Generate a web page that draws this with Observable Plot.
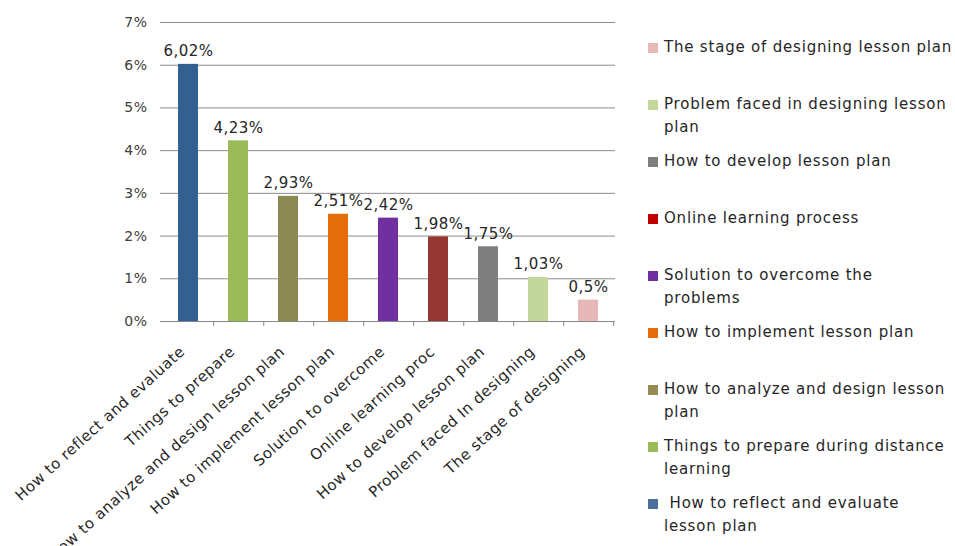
<!DOCTYPE html>
<html><head><meta charset="utf-8">
<script src="https://cdn.jsdelivr.net/npm/d3@7"></script>
<script src="https://cdn.jsdelivr.net/npm/@observablehq/plot@0.6"></script>
<style>
body{margin:0;background:#fff;font-family:"DejaVu Sans",sans-serif;}
#wrap{position:relative;width:955px;height:546px;overflow:hidden;background:#fff;}
#chart{position:absolute;left:0;top:0;}
#legend{position:absolute;left:648px;top:36px;color:#262626;font-size:15px;letter-spacing:0.8px;}
.item{height:57px;display:flex;align-items:flex-start;}
.sw{width:10px;height:10px;margin-top:7px;margin-right:6px;flex:none;}
.lb{line-height:23px;white-space:pre;}
</style>
</head><body>
<div id="wrap"><div id="chart"></div><div id="legend"></div></div>
<script>
const categories = ["How to reflect and evaluate","Things to prepare","How to analyze and design lesson plan","How to implement lesson plan","Solution to overcome","Online learning proc","How to develop lesson plan","Problem faced In designing","The stage of designing"];
const values = [6.02,4.23,2.93,2.51,2.42,1.98,1.75,1.03,0.5];
const colors = ["#335f91","#9bbb59","#8c8a54","#e46c0a","#7030a0","#953735","#7f7f7f","#c3d69b","#e6b9b8"];
const yTicks = [0,1,2,3,4,5,6,7];
const legendLabels = ["The stage of designing lesson plan","Problem faced in designing lesson\nplan","How to develop lesson plan","Online learning process","Solution to overcome the\nproblems","How to implement lesson plan","How to analyze and design lesson\nplan","Things to prepare during distance\nlearning"," How to reflect and evaluate\nlesson plan"];
const legendColors = ["#e6b9b8","#c3d69b","#7f7f7f","#c00000","#7030a0","#e46c0a","#948a54","#9bbb59","#4a6e9e"];

const data = categories.map((c,i)=>({c, v: values[i], color: colors[i], label: String(values[i]).replace(".", ",") + "%"}));
const W = 640, H = 546, mL = 160, mR = 25, mT = 22, mB = 225;
const step = (W - mL - mR) / categories.length;

const chart = Plot.plot({
  width: W, height: H, marginLeft: mL, marginRight: mR, marginTop: mT, marginBottom: mB,
  style: {fontFamily: "DejaVu Sans", fontSize: "14px", color: "#404040", background: "transparent", overflow: "visible", letterSpacing: "0.5px"},
  x: {domain: categories, paddingInner: 0.61, paddingOuter: 0.305, label: null},
  y: {domain: [0, 7], label: null},
  color: {type: "identity"},
  marks: [
    Plot.gridY(yTicks, {stroke: "#8c8c8c", strokeOpacity: 1}),
    Plot.ruleY([0], {stroke: "#868686"}),
    Plot.barY(data, {x: "c", y: "v", fill: "color"}),
    Plot.text(data, {x: "c", y: "v", text: "label", dy: -13, fontSize: 15, fill: "#262626"}),
    Plot.axisY(yTicks, {tickSize: 0, tickPadding: 13, tickFormat: d => d + "%", fontSize: 14, fill: "#404040", label: null}),
    Plot.axisX({tickSize: 5, dx: step / 2, tickFormat: () => "", stroke: "#868686", label: null}),
    Plot.axisX({tickSize: 0, tickRotate: -42, tickPadding: 28, dx: -6, fontSize: 15, fill: "#262626", label: null})
  ]
});
document.getElementById("chart").append(chart);

const legend = document.getElementById("legend");
legendLabels.forEach((t, i) => {
  const item = document.createElement("div"); item.className = "item";
  const sw = document.createElement("div"); sw.className = "sw"; sw.style.background = legendColors[i];
  const lb = document.createElement("div"); lb.className = "lb"; lb.textContent = t;
  item.append(sw, lb); legend.append(item);
});
</script>
</body></html>
